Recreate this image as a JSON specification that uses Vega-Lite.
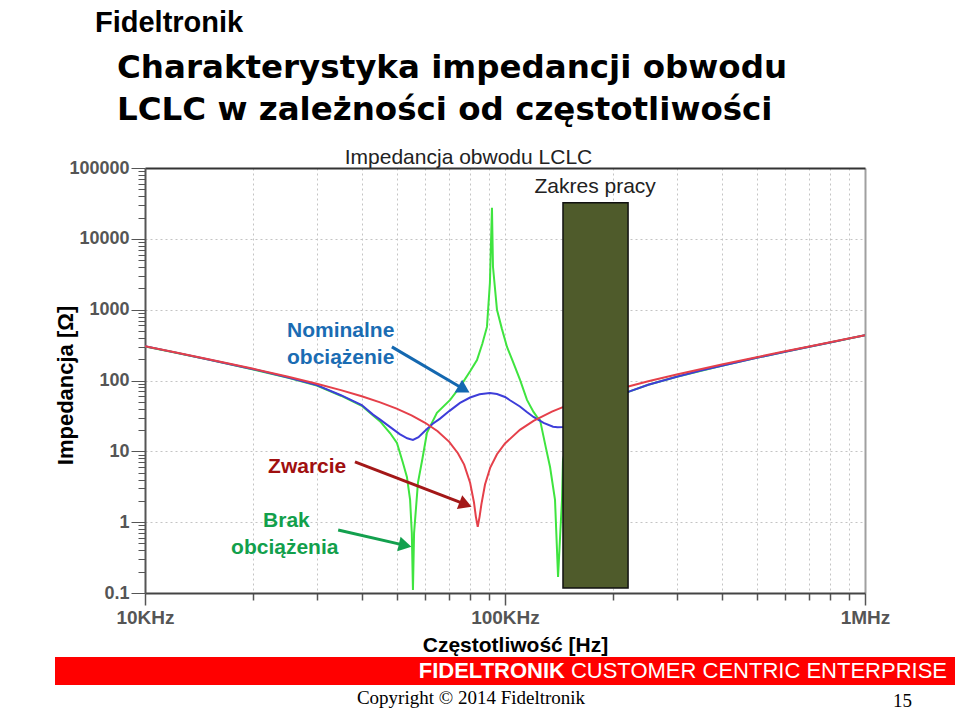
{
  "$schema": "https://vega.github.io/schema/vega-lite/v6.json",
  "background": "white",
  "padding": {"left": 54, "top": 8, "right": 5, "bottom": 1},
  "title": {
    "text": "Fideltronik",
    "anchor": "start",
    "frame": "bounds",
    "dx": 41,
    "offset": 14,
    "font": "Liberation Sans",
    "fontSize": 29,
    "fontWeight": "bold",
    "color": "#000000"
  },
  "datasets": {
    "curves": [
      {"series": "Brak obciążenia", "f": 10000, "z": 303},
      {"series": "Brak obciążenia", "f": 12000, "z": 250},
      {"series": "Brak obciążenia", "f": 15000, "z": 197},
      {"series": "Brak obciążenia", "f": 20000, "z": 143},
      {"series": "Brak obciążenia", "f": 25000, "z": 109},
      {"series": "Brak obciążenia", "f": 30000, "z": 85},
      {"series": "Brak obciążenia", "f": 35000, "z": 61},
      {"series": "Brak obciążenia", "f": 40000, "z": 44},
      {"series": "Brak obciążenia", "f": 43000, "z": 32},
      {"series": "Brak obciążenia", "f": 45000, "z": 26.5},
      {"series": "Brak obciążenia", "f": 48000, "z": 18},
      {"series": "Brak obciążenia", "f": 50100, "z": 13.1},
      {"series": "Brak obciążenia", "f": 52000, "z": 7},
      {"series": "Brak obciążenia", "f": 53400, "z": 4.35},
      {"series": "Brak obciążenia", "f": 54500, "z": 2.06},
      {"series": "Brak obciążenia", "f": 55100, "z": 0.7},
      {"series": "Brak obciążenia", "f": 55500, "z": 0.11},
      {"series": "Brak obciążenia", "f": 55900, "z": 0.7},
      {"series": "Brak obciążenia", "f": 57300, "z": 3.58},
      {"series": "Brak obciążenia", "f": 59000, "z": 8},
      {"series": "Brak obciążenia", "f": 60700, "z": 18.2},
      {"series": "Brak obciążenia", "f": 64700, "z": 34.9},
      {"series": "Brak obciążenia", "f": 70400, "z": 53.2},
      {"series": "Brak obciążenia", "f": 75000, "z": 81.2},
      {"series": "Brak obciążenia", "f": 80000, "z": 135},
      {"series": "Brak obciążenia", "f": 83600, "z": 195},
      {"series": "Brak obciążenia", "f": 86500, "z": 330},
      {"series": "Brak obciążenia", "f": 89100, "z": 571},
      {"series": "Brak obciążenia", "f": 90800, "z": 2390},
      {"series": "Brak obciążenia", "f": 92000, "z": 27400},
      {"series": "Brak obciążenia", "f": 92600, "z": 4030},
      {"series": "Brak obciążenia", "f": 95000, "z": 994},
      {"series": "Brak obciążenia", "f": 98000, "z": 540},
      {"series": "Brak obciążenia", "f": 101300, "z": 298},
      {"series": "Brak obciążenia", "f": 105000, "z": 189},
      {"series": "Brak obciążenia", "f": 110100, "z": 102},
      {"series": "Brak obciążenia", "f": 115100, "z": 53.2},
      {"series": "Brak obciążenia", "f": 120000, "z": 36},
      {"series": "Brak obciążenia", "f": 122700, "z": 30.6},
      {"series": "Brak obciążenia", "f": 125100, "z": 27.8},
      {"series": "Brak obciążenia", "f": 130000, "z": 11},
      {"series": "Brak obciążenia", "f": 133400, "z": 6},
      {"series": "Brak obciążenia", "f": 137700, "z": 2.06},
      {"series": "Brak obciążenia", "f": 140400, "z": 0.168},
      {"series": "Brak obciążenia", "f": 142500, "z": 0.75},
      {"series": "Brak obciążenia", "f": 144000, "z": 2.06},
      {"series": "Brak obciążenia", "f": 144900, "z": 7.56},
      {"series": "Brak obciążenia", "f": 150000, "z": 16},
      {"series": "Brak obciążenia", "f": 175000, "z": 38},
      {"series": "Brak obciążenia", "f": 200000, "z": 56},
      {"series": "Brak obciążenia", "f": 220000, "z": 69},
      {"series": "Brak obciążenia", "f": 250000, "z": 87},
      {"series": "Brak obciążenia", "f": 300000, "z": 113},
      {"series": "Brak obciążenia", "f": 400000, "z": 161},
      {"series": "Brak obciążenia", "f": 500000, "z": 209},
      {"series": "Brak obciążenia", "f": 600000, "z": 255},
      {"series": "Brak obciążenia", "f": 700000, "z": 300},
      {"series": "Brak obciążenia", "f": 800000, "z": 345},
      {"series": "Brak obciążenia", "f": 1000000, "z": 434},
      {"series": "Nominalne obciążenie", "f": 10000, "z": 304},
      {"series": "Nominalne obciążenie", "f": 12000, "z": 251.5},
      {"series": "Nominalne obciążenie", "f": 15000, "z": 198.5},
      {"series": "Nominalne obciążenie", "f": 20000, "z": 144.5},
      {"series": "Nominalne obciążenie", "f": 25000, "z": 110.5},
      {"series": "Nominalne obciążenie", "f": 30000, "z": 86},
      {"series": "Nominalne obciążenie", "f": 35000, "z": 62},
      {"series": "Nominalne obciążenie", "f": 40000, "z": 45},
      {"series": "Nominalne obciążenie", "f": 43000, "z": 33},
      {"series": "Nominalne obciążenie", "f": 45000, "z": 28},
      {"series": "Nominalne obciążenie", "f": 48000, "z": 22},
      {"series": "Nominalne obciążenie", "f": 51000, "z": 17.5},
      {"series": "Nominalne obciążenie", "f": 53500, "z": 15.3},
      {"series": "Nominalne obciążenie", "f": 55500, "z": 14.5},
      {"series": "Nominalne obciążenie", "f": 57500, "z": 15.8},
      {"series": "Nominalne obciążenie", "f": 60000, "z": 19.5},
      {"series": "Nominalne obciążenie", "f": 63000, "z": 24.5},
      {"series": "Nominalne obciążenie", "f": 66000, "z": 29},
      {"series": "Nominalne obciążenie", "f": 70000, "z": 37},
      {"series": "Nominalne obciążenie", "f": 75000, "z": 48.3},
      {"series": "Nominalne obciążenie", "f": 80000, "z": 57.5},
      {"series": "Nominalne obciążenie", "f": 85000, "z": 64},
      {"series": "Nominalne obciążenie", "f": 90800, "z": 66.8},
      {"series": "Nominalne obciążenie", "f": 95000, "z": 64.5},
      {"series": "Nominalne obciążenie", "f": 100000, "z": 58.6},
      {"series": "Nominalne obciążenie", "f": 103000, "z": 53},
      {"series": "Nominalne obciążenie", "f": 110000, "z": 43},
      {"series": "Nominalne obciążenie", "f": 115000, "z": 36},
      {"series": "Nominalne obciążenie", "f": 120000, "z": 30.6},
      {"series": "Nominalne obciążenie", "f": 128000, "z": 25.2},
      {"series": "Nominalne obciążenie", "f": 136000, "z": 22.3},
      {"series": "Nominalne obciążenie", "f": 140000, "z": 21.8},
      {"series": "Nominalne obciążenie", "f": 145000, "z": 22.1},
      {"series": "Nominalne obciążenie", "f": 160000, "z": 28},
      {"series": "Nominalne obciążenie", "f": 180000, "z": 42},
      {"series": "Nominalne obciążenie", "f": 200000, "z": 56},
      {"series": "Nominalne obciążenie", "f": 220000, "z": 69},
      {"series": "Nominalne obciążenie", "f": 250000, "z": 87},
      {"series": "Nominalne obciążenie", "f": 300000, "z": 113},
      {"series": "Nominalne obciążenie", "f": 350000, "z": 138},
      {"series": "Nominalne obciążenie", "f": 400000, "z": 161},
      {"series": "Nominalne obciążenie", "f": 500000, "z": 209},
      {"series": "Nominalne obciążenie", "f": 600000, "z": 255},
      {"series": "Nominalne obciążenie", "f": 700000, "z": 300},
      {"series": "Nominalne obciążenie", "f": 800000, "z": 345},
      {"series": "Nominalne obciążenie", "f": 900000, "z": 390},
      {"series": "Nominalne obciążenie", "f": 1000000, "z": 434},
      {"series": "Zwarcie", "f": 10000, "z": 305.6},
      {"series": "Zwarcie", "f": 12000, "z": 253.1},
      {"series": "Zwarcie", "f": 15000, "z": 200.1},
      {"series": "Zwarcie", "f": 20000, "z": 146.2},
      {"series": "Zwarcie", "f": 25000, "z": 113},
      {"series": "Zwarcie", "f": 30000, "z": 90.2},
      {"series": "Zwarcie", "f": 35000, "z": 73.2},
      {"series": "Zwarcie", "f": 40000, "z": 59.9},
      {"series": "Zwarcie", "f": 45000, "z": 49.1},
      {"series": "Zwarcie", "f": 50000, "z": 40},
      {"series": "Zwarcie", "f": 55000, "z": 32.2},
      {"series": "Zwarcie", "f": 60000, "z": 25.3},
      {"series": "Zwarcie", "f": 65000, "z": 19.2},
      {"series": "Zwarcie", "f": 70000, "z": 13.6},
      {"series": "Zwarcie", "f": 74000, "z": 9.4},
      {"series": "Zwarcie", "f": 77000, "z": 6.5},
      {"series": "Zwarcie", "f": 80000, "z": 3.6},
      {"series": "Zwarcie", "f": 82000, "z": 1.9},
      {"series": "Zwarcie", "f": 83000, "z": 1.2},
      {"series": "Zwarcie", "f": 84000, "z": 0.86},
      {"series": "Zwarcie", "f": 85000, "z": 1.2},
      {"series": "Zwarcie", "f": 86000, "z": 1.8},
      {"series": "Zwarcie", "f": 88000, "z": 3.4},
      {"series": "Zwarcie", "f": 91000, "z": 5.9},
      {"series": "Zwarcie", "f": 95000, "z": 9.1},
      {"series": "Zwarcie", "f": 100000, "z": 12.9},
      {"series": "Zwarcie", "f": 110000, "z": 20.1},
      {"series": "Zwarcie", "f": 120000, "z": 26.9},
      {"series": "Zwarcie", "f": 135000, "z": 36.3},
      {"series": "Zwarcie", "f": 150000, "z": 45.2},
      {"series": "Zwarcie", "f": 175000, "z": 59.1},
      {"series": "Zwarcie", "f": 200000, "z": 72.3},
      {"series": "Zwarcie", "f": 220000, "z": 82.5},
      {"series": "Zwarcie", "f": 250000, "z": 97.4},
      {"series": "Zwarcie", "f": 300000, "z": 121.4},
      {"series": "Zwarcie", "f": 400000, "z": 167.9},
      {"series": "Zwarcie", "f": 500000, "z": 213.3},
      {"series": "Zwarcie", "f": 600000, "z": 258.2},
      {"series": "Zwarcie", "f": 700000, "z": 302.9},
      {"series": "Zwarcie", "f": 800000, "z": 347.3},
      {"series": "Zwarcie", "f": 900000, "z": 391.7},
      {"series": "Zwarcie", "f": 1000000, "z": 435.9}
    ],
    "zone": [
      {"label": "Zakres pracy", "f": 144900, "f2": 219700, "z": 0.1176, "z2": 32200}
    ],
    "zoneLabel": [
      {"label": "Zakres pracy", "f": 178000, "z": 54200}
    ],
    "notes": [
      {"label": "Nominalne", "series": "Nominalne obciążenie", "f": 24800, "z": 502},
      {"label": "obciążenie", "series": "Nominalne obciążenie", "f": 24800, "z": 208},
      {"label": "Zwarcie", "series": "Zwarcie", "f": 21970, "z": 6.02},
      {"label": "Brak", "series": "Brak obciążenia", "f": 21280, "z": 1.04},
      {"label": "obciążenia", "series": "Brak obciążenia", "f": 17340, "z": 0.432}
    ],
    "arrows": [
      {"series": "Nominalne obciążenie", "f": 48500, "z": 298.5, "f2": 76900, "z2": 75.1},
      {"series": "Zwarcie", "f": 38300, "z": 7.08, "f2": 77700, "z2": 1.78},
      {"series": "Brak obciążenia", "f": 34400, "z": 0.776, "f2": 52800, "z2": 0.47}
    ],
    "heads": [
      {"series": "Nominalne obciążenie", "f": 76900, "z": 75.1},
      {"series": "Zwarcie", "f": 77700, "z": 1.78},
      {"series": "Brak obciążenia", "f": 52800, "z": 0.47}
    ],
    "footer": [
      {"brand": "FIDELTRONIK", "slogan": "CUSTOMER CENTRIC ENTERPRISE", "page": "15", "copyright": "Copyright © 2014 Fideltronik"}
    ]
  },
  "vconcat": [
    {
      "width": 720,
      "height": 425,
      "title": {
        "text": ["Charakterystyka impedancji obwodu", "LCLC w zależności od częstotliwości"],
        "anchor": "start",
        "frame": "group",
        "dx": -28,
        "offset": 20,
        "font": "DejaVu Sans",
        "fontSize": 32.5,
        "fontWeight": "bold",
        "lineHeight": 42,
        "color": "#000000"
      },
      "layer": [
        {
          "encoding": {
            "x": {
              "field": "f",
              "type": "quantitative",
              "scale": {"type": "log", "domain": [10000, 1000000]},
              "axis": {
                "title": "Częstotliwość [Hz]",
                "values": [10000, 20000, 30000, 40000, 50000, 60000, 70000, 80000, 90000, 100000, 200000, 300000, 400000, 500000, 600000, 700000, 800000, 900000, 1000000],
                "labelExpr": "datum.value == 10000 ? '10KHz' : datum.value == 100000 ? '100KHz' : datum.value == 1000000 ? '1MHz' : ''",
                "labelFlush": false,
                "labelOverlap": false,
                "labelBound": false,
                "labelFont": "Liberation Sans",
                "labelFontSize": 19,
                "labelFontWeight": "bold",
                "labelColor": "#555555",
                "labelPadding": 3,
                "tickColor": "#555555",
                "tickWidth": 1.5,
                "tickSize": {"condition": {"test": "datum.value == 10000 || datum.value == 100000 || datum.value == 1000000", "value": 12}, "value": 7},
                "domainColor": "#444444",
                "domainWidth": 2,
                "grid": true,
                "gridColor": {"condition": {"test": "datum.value == 1000000", "value": "#a0a0a0"}, "value": "#c4c4c4"},
                "gridDash": {"condition": {"test": "datum.value == 1000000", "value": []}, "value": [2, 3]},
                "gridWidth": {"condition": {"test": "datum.value == 1000000", "value": 2}, "value": 1},
                "titleFont": "Liberation Sans",
                "titleFontSize": 21,
                "titleFontWeight": "bold",
                "titleColor": "#000000",
                "titleX": 370,
                "titleY": 52,
                "titleAlign": "center",
                "titleBaseline": "middle"
              }
            },
            "y": {
              "field": "z",
              "type": "quantitative",
              "scale": {"type": "log", "domain": [0.1, 100000]},
              "axis": {
                "title": "Impedancja [Ω]",
                "values": [0.1, 0.2, 0.3, 0.4, 0.5, 0.6, 0.7, 0.8, 0.9, 1, 2, 3, 4, 5, 6, 7, 8, 9, 10, 20, 30, 40, 50, 60, 70, 80, 90, 100, 200, 300, 400, 500, 600, 700, 800, 900, 1000, 2000, 3000, 4000, 5000, 6000, 7000, 8000, 9000, 10000, 20000, 30000, 40000, 50000, 60000, 70000, 80000, 90000, 100000],
                "labelExpr": "(datum.value == 0.1 || datum.value == 1 || datum.value == 10 || datum.value == 100 || datum.value == 1000 || datum.value == 10000 || datum.value == 100000) ? format(datum.value, '~g') : ''",
                "labelFlush": false,
                "labelOverlap": false,
                "labelBound": false,
                "labelFont": "Liberation Sans",
                "labelFontSize": 18,
                "labelFontWeight": "bold",
                "labelColor": "#555555",
                "labelPadding": 2,
                "tickColor": "#555555",
                "tickSize": {"condition": {"test": "datum.value == 0.1 || datum.value == 1 || datum.value == 10 || datum.value == 100 || datum.value == 1000 || datum.value == 10000 || datum.value == 100000", "value": 14}, "value": 7},
                "domainColor": "#555555",
                "domainWidth": 2,
                "grid": true,
                "gridColor": "#c4c4c4",
                "gridDash": [2, 3],
                "gridOpacity": {"condition": {"test": "datum.value == 1 || datum.value == 10 || datum.value == 100 || datum.value == 1000 || datum.value == 10000", "value": 1}, "value": 0},
                "titleFont": "Liberation Sans",
                "titleFontSize": 22,
                "titleFontWeight": "bold",
                "titleColor": "#000000",
                "titleX": -80,
                "titleY": 217,
                "titleAngle": -90,
                "titleAlign": "center",
                "titleBaseline": "middle"
              }
            }
          },
          "layer": [
            {
              "data": {"name": "curves"},
              "mark": {"type": "line", "strokeWidth": 2, "clip": true},
              "encoding": {
                "color": {
                  "field": "series",
                  "type": "nominal",
                  "scale": {"domain": ["Brak obciążenia", "Nominalne obciążenie", "Zwarcie"], "range": ["#3fe43f", "#3d3dd9", "#e5404a"]},
                  "legend": null
                }
              }
            },
            {
              "data": {"name": "zoneLabel"},
              "mark": {"type": "text", "align": "center", "baseline": "middle", "font": "Liberation Sans", "fontSize": 21, "color": "#222222"},
              "encoding": {"text": {"field": "label"}}
            },
            {
              "data": {"name": "arrows"},
              "mark": {"type": "rule", "strokeWidth": 3},
              "encoding": {
                "x2": {"field": "f2"},
                "y2": {"field": "z2"},
                "stroke": {
                  "field": "series",
                  "type": "nominal",
                  "scale": {"domain": ["Brak obciążenia", "Nominalne obciążenie", "Zwarcie"], "range": ["#13a04e", "#1468b0", "#a31818"]},
                  "legend": null
                }
              }
            },
            {
              "data": {"name": "heads"},
              "transform": [{"filter": "datum.series == 'Nominalne obciążenie'"}],
              "mark": {"type": "point", "shape": "triangle-right", "filled": true, "size": 220, "angle": 30.5, "color": "#1468b0", "opacity": 1}
            },
            {
              "data": {"name": "heads"},
              "transform": [{"filter": "datum.series == 'Zwarcie'"}],
              "mark": {"type": "point", "shape": "triangle-right", "filled": true, "size": 220, "angle": 21, "color": "#a31818", "opacity": 1}
            },
            {
              "data": {"name": "heads"},
              "transform": [{"filter": "datum.series == 'Brak obciążenia'"}],
              "mark": {"type": "point", "shape": "triangle-right", "filled": true, "size": 220, "angle": 13, "color": "#13a04e", "opacity": 1}
            },
            {
              "data": {"name": "notes"},
              "mark": {"type": "text", "align": "left", "baseline": "middle", "font": "Liberation Sans", "fontSize": 21, "fontWeight": "bold"},
              "encoding": {
                "text": {"field": "label"},
                "fill": {
                  "field": "series",
                  "type": "nominal",
                  "scale": {"domain": ["Brak obciążenia", "Nominalne obciążenie", "Zwarcie"], "range": ["#12a04c", "#1a6cb3", "#a00f0f"]},
                  "legend": null
                }
              }
            }
          ]
        },
        {
          "data": {"name": "zone"},
          "mark": {"type": "rect", "fill": "#4f5b2b", "stroke": "#111111", "strokeWidth": 1.5},
          "encoding": {
            "x": {
              "field": "f",
              "type": "quantitative",
              "scale": {"type": "log", "domain": [10000, 1000000]},
              "axis": {
                "orient": "top",
                "title": "Impedancja obwodu LCLC",
                "labels": false,
                "ticks": false,
                "grid": false,
                "domainColor": "#333333",
                "domainWidth": 2,
                "titleFont": "Liberation Sans",
                "titleFontSize": 21,
                "titleFontWeight": "normal",
                "titleColor": "#222222",
                "titleX": 323,
                "titleY": -11,
                "titleAlign": "center",
                "titleBaseline": "middle"
              }
            },
            "x2": {"field": "f2"},
            "y": {"field": "z", "type": "quantitative", "scale": {"type": "log", "domain": [0.1, 100000]}},
            "y2": {"field": "z2"}
          }
        }
      ],
      "resolve": {"axis": {"x": "independent"}}
    },
    {
      "width": 900,
      "height": 28,
      "data": {"name": "footer"},
      "layer": [
        {"mark": {"type": "rect", "color": "#ff0000"}, "encoding": {}},
        {
          "mark": {"type": "text", "align": "right", "baseline": "middle", "dx": -8, "font": "Liberation Sans", "fontSize": 22, "color": "#ffffff"},
          "encoding": {"x": {"value": "width"}, "text": {"field": "slogan"}}
        },
        {
          "mark": {"type": "text", "align": "right", "baseline": "middle", "dx": -390, "font": "Liberation Sans", "fontSize": 22, "fontWeight": "bold", "color": "#ffffff"},
          "encoding": {"x": {"value": "width"}, "text": {"field": "brand"}}
        },
        {
          "mark": {"type": "text", "align": "center", "baseline": "middle", "dx": -34, "dy": 13, "font": "Liberation Serif", "fontSize": 19, "color": "#000000"},
          "encoding": {"y": {"value": "height"}, "text": {"field": "copyright"}}
        },
        {
          "mark": {"type": "text", "align": "right", "baseline": "middle", "dx": -43, "dy": 16, "font": "Liberation Serif", "fontSize": 19, "color": "#000000"},
          "encoding": {"x": {"value": "width"}, "y": {"value": "height"}, "text": {"field": "page"}}
        }
      ]
    }
  ],
  "spacing": 64,
  "bounds": "flush",
  "center": true,
  "config": {
    "font": "Liberation Sans",
    "view": {"stroke": null}
  }
}
